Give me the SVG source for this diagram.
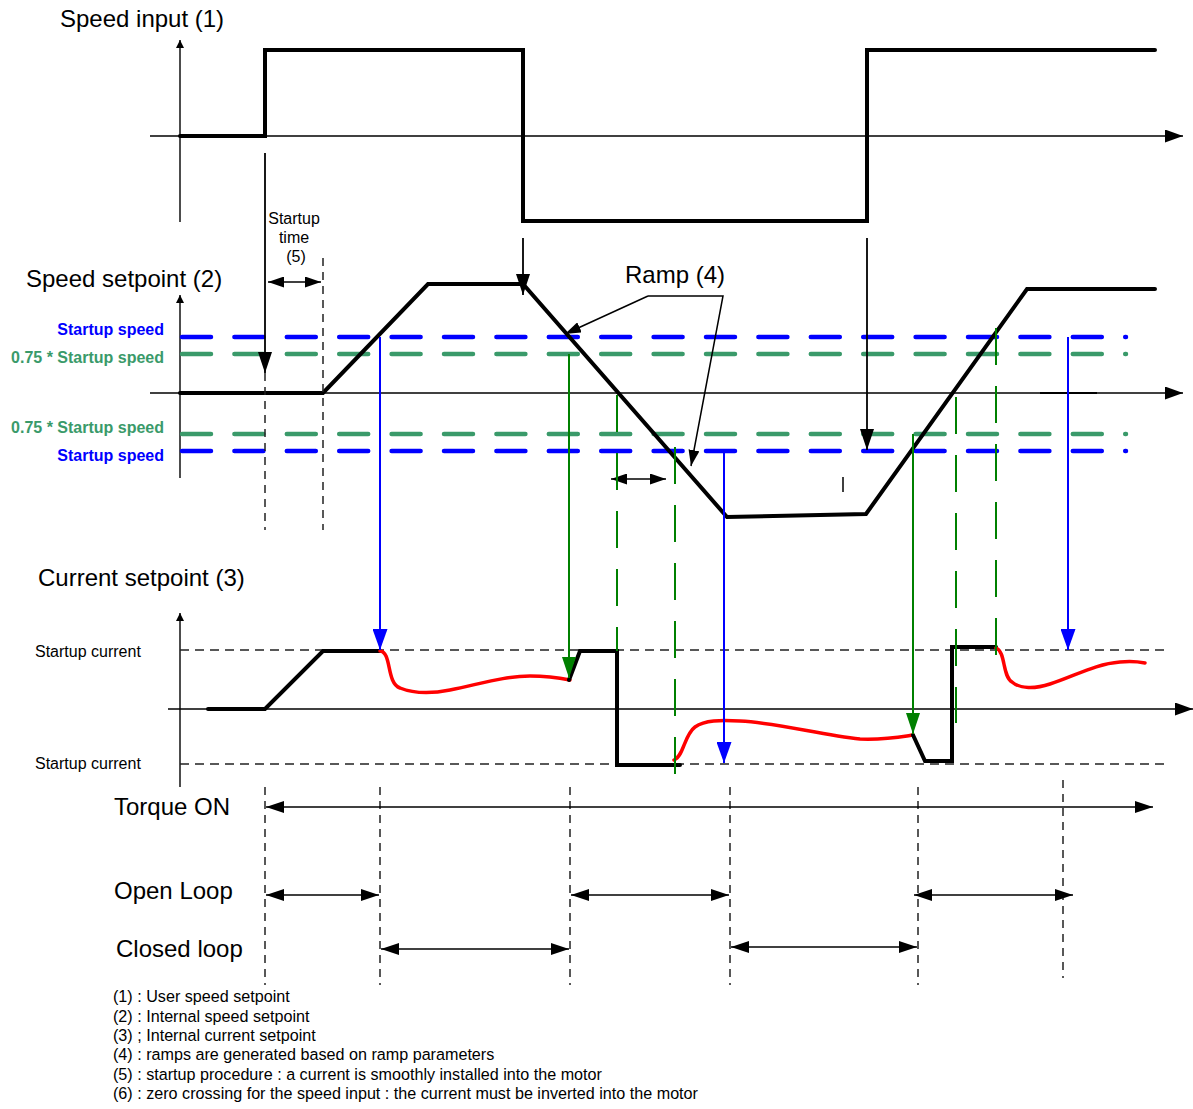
<svg xmlns="http://www.w3.org/2000/svg" width="1193" height="1109" viewBox="0 0 1193 1109">
<style>
text{font-family:"Liberation Sans",Arial,sans-serif;fill:#000}
.t24{font-size:24px}
.t16{font-size:16px}
.leg{font-size:16.15px}
.lab{font-size:16px;font-weight:bold;text-anchor:end}
.axis{stroke:#000;stroke-width:1.4;fill:none}
.sig{stroke:#000;stroke-width:4;fill:none;stroke-linejoin:miter;stroke-linecap:round}
.red{stroke:#ff0000;stroke-width:3.5;fill:none;stroke-linecap:round}
.dashB{stroke:#0000ff;stroke-width:4.5;stroke-dasharray:29 23.4;stroke-linecap:round;fill:none}
.dashG{stroke:#3a9a6a;stroke-width:4.5;stroke-dasharray:29 23.4;stroke-linecap:round;fill:none}
.vg{stroke:#008000;stroke-width:2;fill:none}
.vgd{stroke:#008000;stroke-width:2;stroke-dasharray:37 21;fill:none}
.vb{stroke:#0000ff;stroke-width:2;fill:none}
.vk{stroke:#000;stroke-width:1.8;fill:none}
.dk{stroke:#222;stroke-width:1.5;stroke-dasharray:8 6;fill:none}
.dh{stroke:#222;stroke-width:1.3;stroke-dasharray:9 6;fill:none}
.dbl{stroke:#000;stroke-width:1.5;fill:none}
</style>
<defs>
<marker id="ax" viewBox="0 0 18 13" refX="18" refY="6.5" markerWidth="18" markerHeight="13" markerUnits="userSpaceOnUse" orient="auto"><path d="M0,0 L18,6.5 L0,13 z" fill="#000"/></marker>
<marker id="ay" viewBox="0 0 8 8" refX="8" refY="4" markerWidth="8" markerHeight="8" markerUnits="userSpaceOnUse" orient="auto"><path d="M0,0 L8,4 L0,8 z" fill="#000"/></marker>
<marker id="ak" viewBox="0 0 21 14" refX="21" refY="7" markerWidth="21" markerHeight="14" markerUnits="userSpaceOnUse" orient="auto"><path d="M0,0 L21,7 L0,14 z" fill="#000"/></marker>
<marker id="ab" viewBox="0 0 21 15" refX="21" refY="7.5" markerWidth="21" markerHeight="15" markerUnits="userSpaceOnUse" orient="auto"><path d="M0,0 L21,7.5 L0,15 z" fill="#0000ff"/></marker>
<marker id="ag" viewBox="0 0 21 14" refX="21" refY="7" markerWidth="21" markerHeight="14" markerUnits="userSpaceOnUse" orient="auto"><path d="M0,0 L21,7 L0,14 z" fill="#008000"/></marker>
<marker id="ad" viewBox="0 0 18 12" refX="18" refY="6" markerWidth="18" markerHeight="12" markerUnits="userSpaceOnUse" orient="auto-start-reverse"><path d="M0,0 L18,6 L0,12 z" fill="#000"/></marker>
<marker id="as" viewBox="0 0 16 11" refX="16" refY="5.5" markerWidth="16" markerHeight="11" markerUnits="userSpaceOnUse" orient="auto-start-reverse"><path d="M0,0 L16,5.5 L0,11 z" fill="#000"/></marker>
</defs>

<g id="panel-input">
<text class="t24" x="60" y="27">Speed input (1)</text>
<line class="axis" x1="180" y1="222" x2="180" y2="40" marker-end="url(#ay)"/>
<line class="axis" x1="150" y1="136" x2="1183" y2="136" marker-end="url(#ax)"/>
<polyline class="sig" points="180,136 265,136 265,50 523,50 523,221 867,221 867,50 1155,50"/>
</g>

<g id="panel-speed">
<text class="t24" x="26" y="287">Speed setpoint (2)</text>
<line class="axis" x1="180" y1="478" x2="180" y2="295" marker-end="url(#ay)"/>
<line class="axis" x1="150" y1="393" x2="1183" y2="393" marker-end="url(#ax)"/>
<line stroke="#000" stroke-width="1.9" x1="1040" y1="393" x2="1097" y2="393"/>
<path class="dashB" d="M182,337 H1126"/>
<path class="dashG" d="M182,354 H1126"/>
<path class="dashG" d="M182,434 H1126"/>
<path class="dashB" d="M182,451 H1126"/>
<text class="lab" x="164" y="335" style="fill:#0000ff">Startup speed</text>
<text class="lab" x="164" y="363" style="fill:#3a9a6a">0.75 * Startup speed</text>
<text class="lab" x="164" y="433" style="fill:#3a9a6a">0.75 * Startup speed</text>
<text class="lab" x="164" y="461" style="fill:#0000ff">Startup speed</text>
<polyline class="sig" points="180,393 323,393 428,284 523,284 727,517 866,514 1027,289 1155,289"/>
<line class="dk" x1="265" y1="373" x2="265" y2="530"/>
<line class="dk" x1="323" y1="258" x2="323" y2="530"/>
<line class="dbl" x1="268" y1="282" x2="321" y2="282" marker-start="url(#as)" marker-end="url(#as)"/>
<text class="t16" text-anchor="middle" x="294" y="224">Startup</text>
<text class="t16" text-anchor="middle" x="294" y="243">time</text>
<text class="t16" text-anchor="middle" x="296" y="262">(5)</text>
<line stroke="#000" stroke-width="1.5" x1="843" y1="477" x2="843" y2="492"/>
<text class="t24" x="625" y="283">Ramp (4)</text>
<line class="dbl" x1="648" y1="296" x2="565" y2="334" marker-end="url(#as)"/>
<polyline class="dbl" points="648,296 723,296 691,466" marker-end="url(#as)"/>
<line class="dbl" x1="611" y1="479" x2="666" y2="479" marker-start="url(#as)" marker-end="url(#as)"/>
</g>

<g id="panel-current">
<text class="t24" x="38" y="586">Current setpoint (3)</text>
<line class="axis" x1="180" y1="787" x2="180" y2="613" marker-end="url(#ay)"/>
<line class="axis" x1="168" y1="709" x2="1193" y2="709" marker-end="url(#ax)"/>
<line class="dh" x1="180" y1="650" x2="1168" y2="650"/>
<line class="dh" x1="180" y1="764" x2="1168" y2="764"/>
<text class="t16" x="35" y="657">Startup current</text>
<text class="t16" x="35" y="769">Startup current</text>
<polyline class="sig" points="208,709 265,709 323,651 380,651"/>
<path class="red" d="M380,651 C392,652 386,683 400,688 C415,694 430,694 450,690 C480,684 505,676 530,676 C550,676 560,678 570,680"/>
<polyline class="sig" points="569,680 580,651 617,651 617,765 680,765"/>
<path class="red" d="M674,760 C684,756 684,735 695,727 C705,720 720,720 740,721 C780,723 820,735 860,739 C885,740 900,737 913,735"/>
<polyline class="sig" points="913,735 925,761 952,761 952,647 996,647"/>
<path class="red" d="M996,648 C1006,652 1002,676 1012,682 C1020,689 1035,689 1050,684 C1075,676 1095,664 1120,662 C1130,661 1140,662 1145,663"/>
</g>

<g id="connectors">
<line class="vk" x1="265" y1="153" x2="265" y2="373" marker-end="url(#ak)"/>
<line class="vk" x1="523" y1="238" x2="523" y2="295" marker-end="url(#ak)"/>
<line class="vk" x1="867" y1="238" x2="867" y2="450" marker-end="url(#ak)"/>
<line class="vb" x1="380" y1="337" x2="380" y2="650" marker-end="url(#ab)"/>
<line class="vg" x1="569" y1="354" x2="569" y2="678" marker-end="url(#ag)"/>
<line class="vb" x1="724" y1="451" x2="724" y2="763" marker-end="url(#ab)"/>
<line class="vg" x1="913" y1="434" x2="913" y2="734" marker-end="url(#ag)"/>
<line class="vb" x1="1068" y1="337" x2="1068" y2="650" marker-end="url(#ab)"/>
<line class="vgd" x1="617" y1="395" x2="617" y2="651"/>
<line class="vgd" x1="675" y1="447" x2="675" y2="775"/>
<line class="vgd" x1="956" y1="397" x2="956" y2="723"/>
<line class="vgd" x1="996" y1="328" x2="996" y2="655"/>
</g>

<g id="phases">
<line class="dk" x1="265" y1="787" x2="265" y2="985"/>
<line class="dk" x1="380" y1="787" x2="380" y2="985"/>
<line class="dk" x1="570" y1="787" x2="570" y2="985"/>
<line class="dk" x1="730" y1="787" x2="730" y2="985"/>
<line class="dk" x1="918" y1="787" x2="918" y2="985"/>
<line class="dk" x1="1063" y1="780" x2="1063" y2="978"/>
<text class="t24" x="114" y="815">Torque ON</text>
<text class="t24" x="114" y="899">Open Loop</text>
<text class="t24" x="116" y="957">Closed loop</text>
<line class="dbl" x1="266" y1="807" x2="1153" y2="807" marker-start="url(#ad)" marker-end="url(#ad)"/>
<line class="dbl" x1="266" y1="895" x2="379" y2="895" marker-start="url(#ad)" marker-end="url(#ad)"/>
<line class="dbl" x1="571" y1="895" x2="729" y2="895" marker-start="url(#ad)" marker-end="url(#ad)"/>
<line class="dbl" x1="914" y1="895" x2="1073" y2="895" marker-start="url(#ad)" marker-end="url(#ad)"/>
<line class="dbl" x1="381" y1="949" x2="569" y2="949" marker-start="url(#ad)" marker-end="url(#ad)"/>
<line class="dbl" x1="731" y1="947" x2="917" y2="947" marker-start="url(#ad)" marker-end="url(#ad)"/>
</g>

<g id="legend">
<text class="leg" x="113" y="1002">(1) : User speed setpoint</text>
<text class="leg" x="113" y="1022">(2) : Internal speed setpoint</text>
<text class="leg" x="113" y="1041">(3) ; Internal current setpoint</text>
<text class="leg" x="113" y="1060">(4) : ramps are generated based on ramp parameters</text>
<text class="leg" x="113" y="1080">(5) : startup procedure : a current is smoothly installed into the motor</text>
<text class="leg" x="113" y="1099">(6) : zero crossing for the speed input : the current must be inverted into the motor</text>
</g>
</svg>
